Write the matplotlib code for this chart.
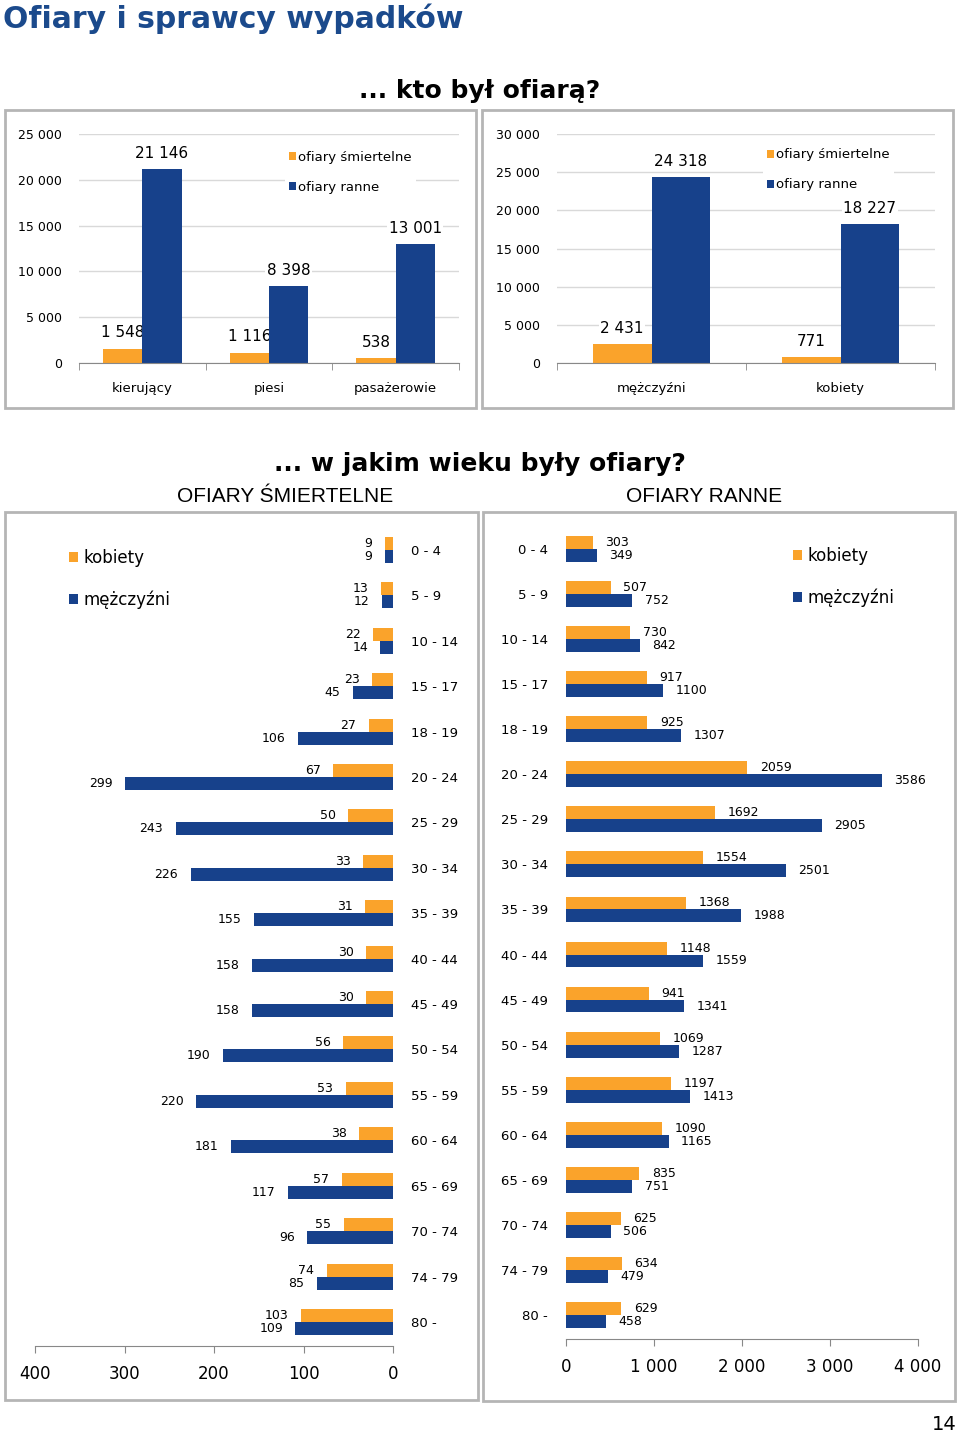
import numpy as np
import matplotlib
matplotlib.use("Agg")
import matplotlib.pyplot as plt
from matplotlib.patches import Rectangle

# --- data ---
who_cats = ["kierujący", "piesi", "pasażerowie"]
who_dead = [1548, 1116, 538]
who_hurt = [21146, 8398, 13001]

sex_cats = ["mężczyźni", "kobiety"]
sex_dead = [2431, 771]
sex_hurt = [24318, 18227]

ages = ["0 - 4", "5 - 9", "10 - 14", "15 - 17", "18 - 19", "20 - 24", "25 - 29",
        "30 - 34", "35 - 39", "40 - 44", "45 - 49", "50 - 54", "55 - 59",
        "60 - 64", "65 - 69", "70 - 74", "74 - 79", "80 -"]
dead_women = [9, 13, 22, 23, 27, 67, 50, 33, 31, 30, 30, 56, 53, 38, 57, 55, 74, 103]
dead_men = [9, 12, 14, 45, 106, 299, 243, 226, 155, 158, 158, 190, 220, 181, 117, 96, 85, 109]
hurt_women = [303, 507, 730, 917, 925, 2059, 1692, 1554, 1368, 1148, 941, 1069, 1197,
              1090, 835, 625, 634, 629]
hurt_men = [349, 752, 842, 1100, 1307, 3586, 2905, 2501, 1988, 1559, 1341, 1287, 1413,
            1165, 751, 506, 479, 458]

ORANGE = "#faa32b"
BLUE = "#17418b"
GRID = "#d9d9d9"
BOX = "#b5b5b5"

W, H = 960, 1434
fig = plt.figure(figsize=(W / 100, H / 100), dpi=100)


def rect(x0, y0, x1, y1):
    return [x0 / W, 1 - y1 / H, (x1 - x0) / W, (y1 - y0) / H]


def fxy(x, y):
    return x / W, 1 - y / H


def box(x0, y0, x1, y1):
    fig.patches.append(Rectangle(fxy(x0, y1), (x1 - x0) / W, (y1 - y0) / H,
                                 transform=fig.transFigure, fill=False,
                                 edgecolor=BOX, lw=2))


def fmt(v):
    return "{:,}".format(int(v)).replace(",", " ")


# --- headings ---
fig.text(*fxy(3, 19), "Ofiary i sprawcy wypadków", color="#1b4a8c",
         fontsize=21.5, fontweight="bold", va="center", ha="left")
fig.text(*fxy(480, 91), "... kto był ofiarą?", fontsize=18, fontweight="bold",
         ha="center", va="center")
fig.text(*fxy(480, 464), "... w jakim wieku były ofiary?", fontsize=18,
         fontweight="bold", ha="center", va="center")
fig.text(*fxy(285, 496), "OFIARY ŚMIERTELNE", fontsize=15, ha="center", va="center",
         family="Liberation Sans")
fig.text(*fxy(704, 496), "OFIARY RANNE", fontsize=15, ha="center", va="center",
         family="Liberation Sans")
fig.text(*fxy(957, 1424), "14", fontsize=14, ha="right", va="center")

box(5, 110, 476, 408)
box(482, 110, 953, 408)
box(5, 512, 478, 1400)
box(483, 512, 955, 1401)


def column_panel(pos, cats, dead, hurt, ymax, leg_anchor):
    ax = fig.add_axes(pos)
    x = np.arange(len(cats))
    w = 0.31
    b1 = ax.bar(x - w / 2, dead, w, color=ORANGE, label="ofiary śmiertelne", zorder=3)
    b2 = ax.bar(x + w / 2, hurt, w, color=BLUE, label="ofiary ranne", zorder=3)
    for bars in (b1, b2):
        for r in bars:
            ax.annotate(fmt(r.get_height()), (r.get_x() + r.get_width() / 2, r.get_height()),
                        xytext=(0, 6), textcoords="offset points", ha="center",
                        va="bottom", fontsize=11, zorder=2.5,
                        bbox=dict(boxstyle="square,pad=0.1", fc="white", ec="none"))
    ax.set_xlim(-0.5, len(cats) - 0.5)
    ax.set_ylim(0, ymax)
    ax.set_yticks(np.arange(0, ymax + 1, 5000))
    ax.set_yticklabels([fmt(v) for v in np.arange(0, ymax + 1, 5000)], fontsize=9)
    ax.set_xticks(x)
    ax.set_xticklabels(cats, fontsize=9.5)
    ax.set_xticks(np.arange(-0.5, len(cats)), minor=True)
    ax.tick_params(axis="x", which="major", length=0, pad=14)
    ax.tick_params(axis="x", which="minor", length=5, color="#888888")
    ax.tick_params(axis="y", length=0, pad=12)
    ax.grid(axis="y", color=GRID, lw=1, zorder=0)
    for s in ("top", "left", "right"):
        ax.spines[s].set_visible(False)
    ax.spines["bottom"].set_color("#888888")
    ax.spines["bottom"].set_zorder(4)
    leg = ax.legend(loc="upper left", bbox_to_anchor=leg_anchor, borderaxespad=0,
                    fontsize=9.5, frameon=True, facecolor="white", edgecolor="none",
                    framealpha=1, handlelength=0.55, handleheight=0.55,
                    handletextpad=0.15, labelspacing=1.3, borderpad=0.3)
    leg.set_zorder(5)
    return ax


column_panel(rect(79, 134, 459, 363), who_cats, who_dead, who_hurt, 25000, (0.542, 0.945))
column_panel(rect(557, 134, 935, 363), sex_cats, sex_dead, sex_hurt, 30000, (0.545, 0.955))


def age_panel(pos, women, men, xmax, left_side, ticks, leg_anchor, ylim):
    ax = fig.add_axes(pos)
    y = np.arange(len(ages))
    h = 0.286
    b1 = ax.barh(y - h / 2, women, h, color=ORANGE, label="kobiety")
    b2 = ax.barh(y + h / 2, men, h, color=BLUE, label="mężczyźni")
    off = -9 if left_side else 9
    ha = "right" if left_side else "left"
    for bars in (b1, b2):
        for r in bars:
            ax.annotate(str(int(r.get_width())),
                        (r.get_width(), r.get_y() + r.get_height() / 2),
                        xytext=(off, 0), textcoords="offset points", ha=ha,
                        va="center", fontsize=9)
    if left_side:
        ax.set_xlim(xmax, 0)
    else:
        ax.set_xlim(0, xmax)
    ax.set_ylim(*ylim)
    ax.set_yticks(y)
    ax.set_yticklabels(ages, fontsize=9.5)
    if left_side:
        ax.yaxis.tick_right()
    ax.tick_params(axis="y", length=0, pad=13)
    ax.set_xticks(ticks)
    ax.set_xticklabels([fmt(t) for t in ticks], fontsize=12)
    ax.tick_params(axis="x", length=5, color="#888888", pad=9)
    for s in ("top", "left", "right"):
        ax.spines[s].set_visible(False)
    ax.spines["bottom"].set_color("#888888")
    ax.legend(loc="upper left", bbox_to_anchor=leg_anchor, borderaxespad=0,
              fontsize=12, frameon=False, handlelength=0.55, handleheight=0.55,
              handletextpad=0.3, labelspacing=1.4, borderpad=0.3)
    return ax


age_panel(rect(35, 520, 393, 1346), dead_women, dead_men, 400, True,
          [400, 300, 200, 100, 0], (0.081, 0.971), (17.53, -0.66))
age_panel(rect(566, 520, 918, 1339), hurt_women, hurt_men, 4000, False,
          [0, 1000, 2000, 3000, 4000], (0.631, 0.973), (17.53, -0.64))

fig.savefig("out.png", dpi=100)
